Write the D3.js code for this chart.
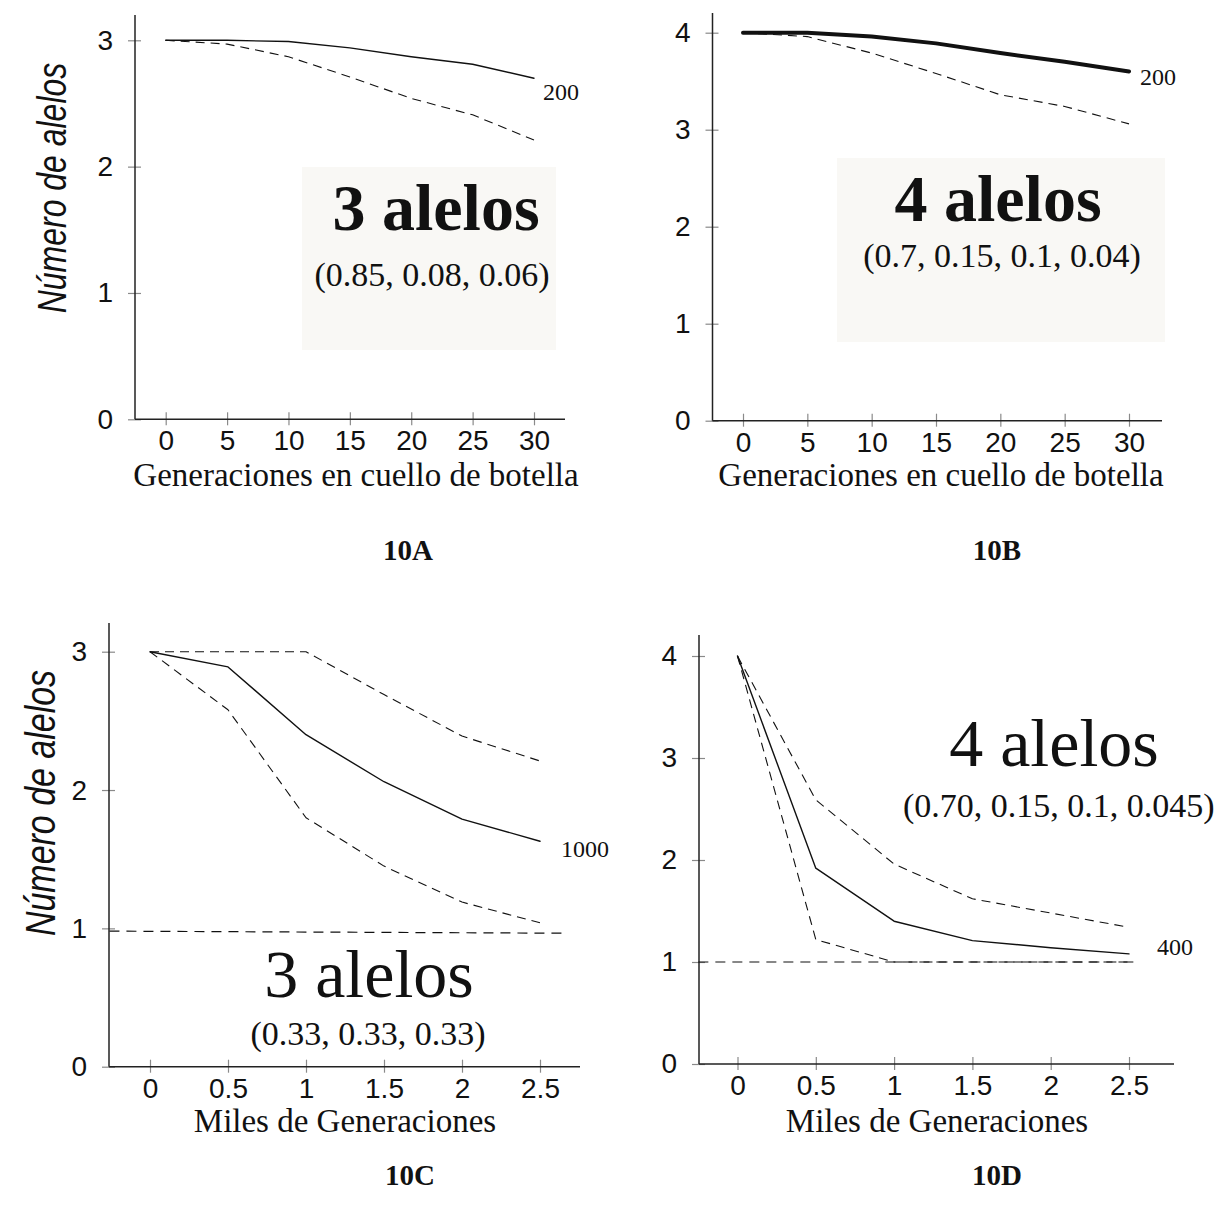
<!DOCTYPE html>
<html>
<head>
<meta charset="utf-8">
<script src="https://cdn.jsdelivr.net/npm/d3@7"></script>
<style>
  body { margin: 0; background: #fff; }
  svg { display: block; }
</style>
</head>
<body>
<svg id="fig" width="1214" height="1217"></svg>
<script>
// ---- Data -------------------------------------------------------------
// Panels 10A / 10B: generations spent in the bottleneck
const gensAB = [0, 5, 10, 15, 20, 25, 30];
const xTicksAB = [0, 5, 10, 15, 20, 25, 30];
const solidA  = [3.00, 3.00, 2.99, 2.94, 2.87, 2.81, 2.70];
const dashedA = [3.00, 2.97, 2.87, 2.71, 2.54, 2.41, 2.21];
const solidB  = [4.00, 4.00, 3.96, 3.89, 3.79, 3.70, 3.60];
const dashedB = [4.00, 3.96, 3.79, 3.58, 3.36, 3.24, 3.06];

// Panels 10C / 10D: thousands of generations
const milesCD = [0, 0.5, 1, 1.5, 2, 2.5];
const xTicksCD = [0, 0.5, 1, 1.5, 2, 2.5];
const solidC = [3.00, 2.89, 2.40, 2.06, 1.79, 1.63];
const upperC = [3.00, 3.00, 3.00, 2.69, 2.39, 2.21];
const lowerC = [3.00, 2.58, 1.80, 1.45, 1.19, 1.04];
const solidD = [4.00, 1.92, 1.40, 1.21, 1.14, 1.08];
const upperD = [4.00, 2.59, 1.96, 1.62, 1.48, 1.34];
const lowerD = [4.00, 1.22, 1.00, 1.00, 1.00, 1.00];

// one-allele reference lines
const refCx = [-0.26, 2.66];
const refCy = [0.98, 0.965];
const refDx = [-0.25, 2.53];
const refDy = [1.00, 1.00];

const yTicks3 = [0, 1, 2, 3];
const yTicks4 = [0, 1, 2, 3, 4];

const panelNames = ["10A", "10B", "10C", "10D"];
const popSizes = ["200", "200", "1000", "400"];
const alleleTitles = ["3 alelos", "4 alelos", "3 alelos", "4 alelos"];
const freqLabels = ["(0.85, 0.08, 0.06)", "(0.7, 0.15, 0.1, 0.04)",
                    "(0.33, 0.33, 0.33)", "(0.70, 0.15, 0.1, 0.045)"];
const xTitles = ["Generaciones en cuello de botella", "Generaciones en cuello de botella",
                 "Miles de Generaciones", "Miles de Generaciones"];
const yTitle = "Número de alelos";

// ---- Drawing ----------------------------------------------------------
const svg = d3.select("#fig");
const SANS = "'Liberation Sans', Arial, Helvetica, sans-serif";
const SERIF = "'Liberation Serif', 'Times New Roman', Times, serif";
const INK = "#111";
const TICK = "#8a8a8a";

const panels = [
  { // 10A
    xs: gensAB, xTicks: xTicksAB, yTicks: yTicks3,
    xDom: [0, 30], xRange: [165.7, 534], yDom: [0, 3], yRange: [419.3, 40.3],
    axisX: 135, axisTop: 15, axisRight: 565,
    series: [
      { v: dashedA, dash: true },
      { v: solidA, w: 1.4 }
    ],
    ref: null,
    box: [302, 167, 556, 350],
    title: { text: alleleTitles[0], x: 436, y: 230, size: 66, weight: "bold" },
    freq: { text: freqLabels[0], x: 432, y: 286, size: 34, anchor: "middle" },
    pop: { text: popSizes[0], dx: 9, dy: 22 },
    yTitle: { x: 66, y: 188, size: 41, sx: 0.78 },
    xTitle: { text: xTitles[0], x: 356, y: 486 },
    name: { text: panelNames[0], x: 408, y: 560 }
  },
  { // 10B
    xs: gensAB, xTicks: xTicksAB, yTicks: yTicks4,
    xDom: [0, 30], xRange: [743, 1129], yDom: [0, 4], yRange: [420.7, 32.7],
    axisX: 712.5, axisTop: 13, axisRight: 1162,
    series: [
      { v: dashedB, dash: true },
      { v: solidB, w: 4 }
    ],
    ref: null,
    box: [837, 158, 1165, 342],
    title: { text: alleleTitles[1], x: 998, y: 221, size: 66, weight: "bold" },
    freq: { text: freqLabels[1], x: 1002, y: 267, size: 34, anchor: "middle" },
    pop: { text: popSizes[1], dx: 11, dy: 13 },
    yTitle: null,
    xTitle: { text: xTitles[1], x: 941, y: 486 },
    name: { text: panelNames[1], x: 997, y: 560 }
  },
  { // 10C
    xs: milesCD, xTicks: xTicksCD, yTicks: yTicks3,
    xDom: [0, 2.5], xRange: [150, 540], yDom: [0, 3], yRange: [1066.7, 651.7],
    axisX: 109, axisTop: 623, axisRight: 580,
    series: [
      { v: upperC, dash: true },
      { v: lowerC, dash: true },
      { v: solidC, w: 1.4 }
    ],
    ref: { x: refCx, y: refCy },
    box: null,
    title: { text: alleleTitles[2], x: 369, y: 997, size: 68, weight: "normal" },
    freq: { text: freqLabels[2], x: 368, y: 1045, size: 34, anchor: "middle" },
    pop: { text: popSizes[2], dx: 21, dy: 16 },
    yTitle: { x: 55, y: 803, size: 43, sx: 0.79 },
    xTitle: { text: xTitles[2], x: 345, y: 1132 },
    name: { text: panelNames[2], x: 410, y: 1185 }
  },
  { // 10D
    xs: milesCD, xTicks: xTicksCD, yTicks: yTicks4,
    xDom: [0, 2.5], xRange: [737.5, 1129], yDom: [0, 4], yRange: [1064, 656],
    axisX: 699, axisTop: 635, axisRight: 1174,
    series: [
      { v: upperD, dash: true },
      { v: lowerD, dash: true },
      { v: solidD, w: 1.4 }
    ],
    ref: { x: refDx, y: refDy },
    box: null,
    title: { text: alleleTitles[3], x: 1054, y: 766, size: 68, weight: "normal" },
    freq: { text: freqLabels[3], x: 903, y: 817, size: 34, anchor: "start" },
    pop: { text: popSizes[3], dx: 28, dy: 1 },
    yTitle: null,
    xTitle: { text: xTitles[3], x: 937, y: 1132 },
    name: { text: panelNames[3], x: 997, y: 1185 }
  }
];

panels.forEach(p => {
  const g = svg.append("g");
  const x = d3.scaleLinear().domain(p.xDom).range(p.xRange);
  const y = d3.scaleLinear().domain(p.yDom).range(p.yRange);

  // shaded label box behind the allele annotation
  if (p.box) {
    g.append("rect")
      .attr("x", p.box[0]).attr("y", p.box[1])
      .attr("width", p.box[2] - p.box[0]).attr("height", p.box[3] - p.box[1])
      .attr("fill", "#f9f8f5");
  }

  // y axis
  const yAxis = d3.axisLeft(y).tickValues(p.yTicks).tickFormat(d3.format("d"))
    .tickSizeInner(0).tickSizeOuter(0).tickPadding(22);
  const gy = g.append("g").attr("transform", `translate(${p.axisX},0)`).call(yAxis);
  gy.select(".domain").remove();
  gy.selectAll(".tick line").attr("x1", -7).attr("x2", 6).attr("stroke", TICK).attr("stroke-width", 1.2);
  gy.selectAll(".tick text").attr("font-family", SANS).attr("font-size", 28).attr("fill", INK);
  g.append("line")
    .attr("x1", p.axisX).attr("x2", p.axisX)
    .attr("y1", p.axisTop).attr("y2", y(0))
    .attr("stroke", "#222").attr("stroke-width", 1.5);

  // x axis
  const xAxis = d3.axisBottom(x).tickValues(p.xTicks).tickFormat(d => String(d))
    .tickSizeInner(0).tickSizeOuter(0).tickPadding(11);
  const gx = g.append("g").attr("transform", `translate(0,${y(0)})`).call(xAxis);
  gx.select(".domain").remove();
  gx.selectAll(".tick line").attr("y1", -7).attr("y2", 6).attr("stroke", TICK).attr("stroke-width", 1.2);
  gx.selectAll(".tick text").attr("font-family", SANS).attr("font-size", 28).attr("fill", INK);
  g.append("line")
    .attr("x1", p.axisX).attr("x2", p.axisRight)
    .attr("y1", y(0)).attr("y2", y(0))
    .attr("stroke", "#222").attr("stroke-width", 1.5);

  // one-allele reference line
  if (p.ref) {
    const pts = p.ref.x.map((d, i) => [d, p.ref.y[i]]);
    g.append("path")
      .attr("d", d3.line().x(d => x(d[0])).y(d => y(d[1]))(pts))
      .attr("fill", "none").attr("stroke", INK).attr("stroke-width", 1.2)
      .attr("stroke-dasharray", "10,7");
  }

  // series
  const line = d3.line().x(d => x(d[0])).y(d => y(d[1]));
  p.series.forEach(s => {
    const pts = p.xs.map((d, i) => [d, s.v[i]]);
    g.append("path")
      .attr("d", line(pts))
      .attr("fill", "none")
      .attr("stroke", INK)
      .attr("stroke-width", s.dash ? 1.1 : s.w)
      .attr("stroke-linejoin", "round")
      .attr("stroke-linecap", s.dash ? "butt" : "round")
      .attr("stroke-dasharray", s.dash ? "9,6" : null);
  });

  // population size label at end of the solid curve
  const solid = p.series[p.series.length - 1].v;
  const lastX = p.xs[p.xs.length - 1];
  g.append("text")
    .attr("x", x(lastX) + p.pop.dx).attr("y", y(solid[solid.length - 1]) + p.pop.dy)
    .attr("font-family", SERIF).attr("font-size", 24).attr("fill", INK)
    .text(p.pop.text);

  // allele annotation
  g.append("text")
    .attr("x", p.title.x).attr("y", p.title.y)
    .attr("text-anchor", "middle")
    .attr("font-family", SERIF).attr("font-size", p.title.size)
    .attr("font-weight", p.title.weight).attr("fill", INK)
    .text(p.title.text);
  g.append("text")
    .attr("x", p.freq.x).attr("y", p.freq.y)
    .attr("text-anchor", p.freq.anchor)
    .attr("font-family", SERIF).attr("font-size", p.freq.size).attr("fill", INK)
    .text(p.freq.text);

  // axis titles
  g.append("text")
    .attr("x", p.xTitle.x).attr("y", p.xTitle.y)
    .attr("text-anchor", "middle")
    .attr("font-family", SERIF).attr("font-size", 33).attr("fill", INK)
    .text(p.xTitle.text);
  if (p.yTitle) {
    g.append("text")
      .attr("transform", `translate(${p.yTitle.x},${p.yTitle.y}) rotate(-90) scale(${p.yTitle.sx},1)`)
      .attr("text-anchor", "middle")
      .attr("font-family", SANS).attr("font-style", "italic")
      .attr("font-size", p.yTitle.size).attr("fill", INK)
      .text(yTitle);
  }

  // panel name
  g.append("text")
    .attr("x", p.name.x).attr("y", p.name.y)
    .attr("text-anchor", "middle")
    .attr("font-family", SERIF).attr("font-weight", "bold")
    .attr("font-size", 29).attr("fill", INK)
    .text(p.name.text);
});
</script>
</body>
</html>
